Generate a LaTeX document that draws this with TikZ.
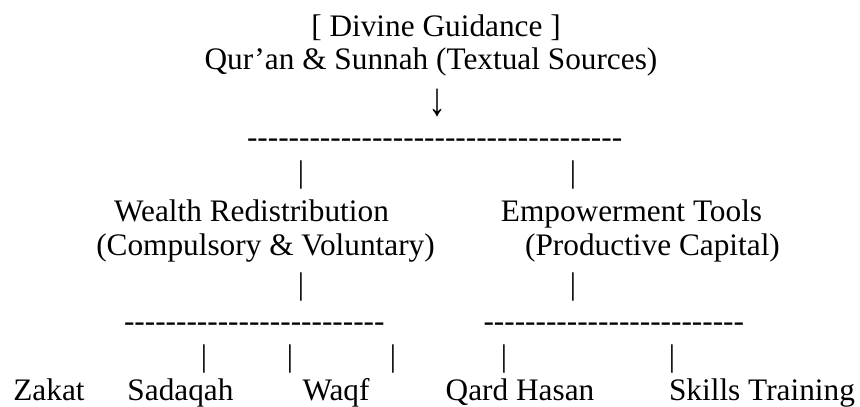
\documentclass[tikz,border=0pt]{standalone}
\usepackage{fontspec}
\usepackage{graphicx}
\setmainfont{Liberation Serif}
\newcount\hycnt
\newcommand\hyphenrow[1]{\hycnt=0\relax\loop\mbox{-}\advance\hycnt by 1\relax\ifnum\hycnt<#1\repeat}
\begin{document}
\begin{tikzpicture}[x=1pt,y=-1pt,
  txt/.style={inner sep=0pt, outer sep=0pt, anchor=base, font=\fontsize{31.3}{36}\selectfont},
  dashrow/.style={txt, anchor=base west},
  bar/.style={txt, anchor=center}]
\useasboundingbox (0,0) rectangle (860,407);
% top
\node[txt] (divine) at (436,36) {[ Divine Guidance ]};
\node[txt] (quran) at (431,69) {Qur’an \& Sunnah (Textual Sources)};
\node[bar] (arrow) at (437,103) {\scalebox{1.15}[1.5]{↓}};
\node[dashrow] (dtop) at (247,147) {\hyphenrow{36}};
\node[bar] (p1) at (301,175) {|};
\node[bar] (p2) at (573,175) {|};
% middle
\node[txt] (wealth) at (251.5,221) {Wealth Redistribution};
\node[txt] (wealth2) at (265.5,255) {(Compulsory \& Voluntary)};
\node[txt] (emp) at (631.5,221) {Empowerment Tools};
\node[txt] (emp2) at (652.5,255) {(Productive Capital)};
\node[bar] (p3) at (301,287.5) {|};
\node[bar] (p4) at (573,287.5) {|};
% lower dashes
\node[dashrow] (dl) at (124,331) {\hyphenrow{25}};
\node[dashrow] (dr) at (483.5,331) {\hyphenrow{25}};
\node[bar] (q1) at (204,359.5) {|};
\node[bar] (q2) at (290,359.5) {|};
\node[bar] (q3) at (393,359.5) {|};
\node[bar] (q4) at (504,359.5) {|};
\node[bar] (q5) at (672,359.5) {|};
% bottom
\node[txt] (zakat) at (49,400) {Zakat};
\node[txt] (sadaqah) at (180.5,400) {Sadaqah};
\node[txt] (waqf) at (336,400) {Waqf};
\node[txt] (qard) at (520,400) {Qard Hasan};
\node[txt] (skills) at (762,400) {Skills Training};
\end{tikzpicture}
\end{document}
